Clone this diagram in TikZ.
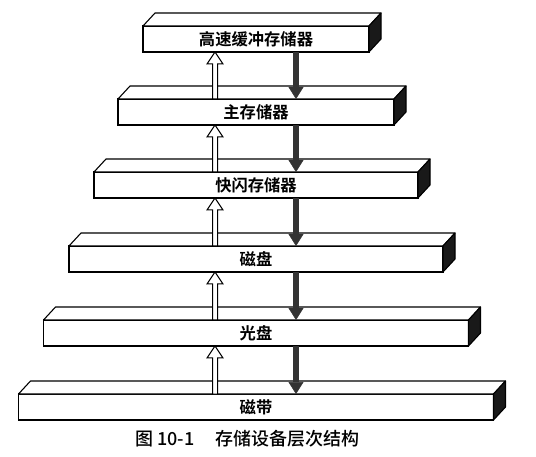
\documentclass[tikz,border=0pt]{standalone}
\usepackage{fontspec}
\newfontfamily\cjk{Noto Sans CJK SC Medium}
\newfontfamily\cjkb{Noto Sans CJK SC Bold}
\usetikzlibrary{arrows.meta,calc}

\tikzset{
	front/.style={draw,line width=1.1pt,fill=white,minimum height=26pt,
		inner sep=0pt,outer sep=0pt,font=\cjkb\fontsize{16.3}{18}\selectfont},
	topface/.style={draw,line width=1.1pt,fill=white,line join=round},
	sideface/.style={draw,line width=1.1pt,fill=black!90,line join=round},
	up/.style={draw,fill=white,line width=1pt,
		to path={let \p1=(\tikztostart), \p2=(\tikztotarget) in
			(\x1-2.5pt,\y1) -- (\x1-2.5pt,\y2-12pt) -- (\x1-8pt,\y2-12pt) -- (\x1,\y2)
			-- (\x1+8pt,\y2-12pt) -- (\x1+2.5pt,\y2-12pt) -- (\x1+2.5pt,\y1) -- cycle}},
	down/.style={draw=black!80,line width=5.5pt,
		-{Triangle[width=15pt,length=12pt,line width=0.5pt]}},
	caption/.style={inner sep=0pt,font=\cjk\fontsize{18}{20}\selectfont}
}

\begin{document}
\begin{tikzpicture}[x=1pt,y=-1pt]
	\useasboundingbox (0,0) rectangle (536,457);

	% the six levels
	\foreach \i/\w/\y/\txt in {1/226/39/高速缓冲存储器,2/276/112/主存储器,
		3/324/185/快闪存储器,4/374/259/磁盘,5/425/333/光盘,6/475/407/磁带} {
		\node[front,minimum width=\w pt] (\i) at (256,\y) {\txt};
		\draw[topface] (\i.north west) -- ++(12,-13) -- ($(\i.north east)+(12,-13)$)
			-- (\i.north east) -- cycle;
		\draw[sideface] (\i.north east) -- ++(12,-13) -- ++(0,26) -- (\i.south east) -- cycle;
	}

	% data moving up and down
	\foreach \i/\j in {1/2,2/3,3/4,4/5,5/6} {
		\path[up] ([xshift=-41pt]\j.north) to ([xshift=-41pt]\i.south);
		\draw[down] ([xshift=40pt]\i.south) -- ([xshift=40pt]\j.north);
	}

	\node[caption] (cap) at (247.5,439) {图 10-1\hspace{1.2em}存储设备层次结构};
\end{tikzpicture}
\end{document}
